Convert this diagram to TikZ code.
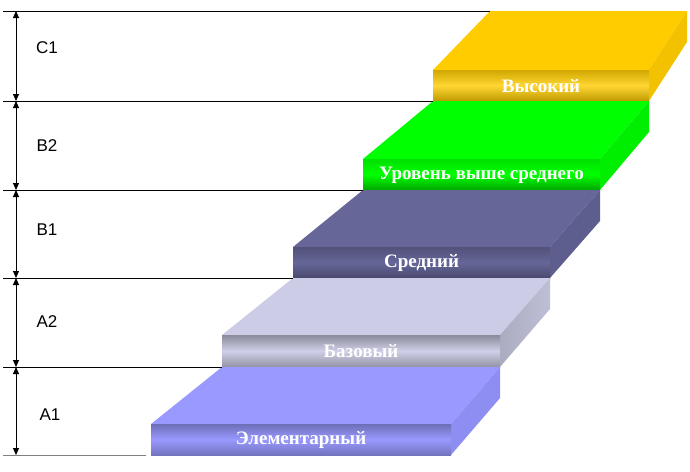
\documentclass[tikz,border=0pt]{standalone}
\usepackage{fontspec}
\setmainfont{Liberation Serif}
\newfontfamily\levelfont{Liberation Sans}
\usetikzlibrary{arrows.meta,calc}

\definecolor{goldtop}{HTML}{FFCC00}
\definecolor{goldside}{HTML}{F2C200}
\definecolor{greentop}{HTML}{00FF00}
\definecolor{greenside}{HTML}{00EE00}
\definecolor{violettop}{HTML}{666699}
\definecolor{violetside}{HTML}{5E5E8E}
\definecolor{greytop}{HTML}{CCCCE6}
\definecolor{greyside}{HTML}{BEBED6}
\definecolor{bluetop}{HTML}{9999FF}
\definecolor{blueside}{HTML}{8E8EF2}

\begin{document}
\begin{tikzpicture}[x=1pt,y=-1pt,
    steplabel/.style={text=white,font=\bfseries\fontsize{19}{19}\selectfont,inner sep=0pt},
    levellabel/.style={font=\levelfont\fontsize{17}{17}\selectfont,inner sep=0pt},
    levelline/.style={line width=1pt},
    dimarrow/.style={line width=1pt,{Triangle[length=7pt,width=6pt]}-{Triangle[length=7pt,width=6pt]}}]
    \useasboundingbox (0,0) rectangle (690,471);

    % corners of the steps: fl/fr = front top left/right, bl/br = back left/right
    \coordinate (c1fl) at (433,70);
    \coordinate (c1fr) at (649,70);
    \coordinate (c1bl) at (490,11);
    \coordinate (c1br) at (687,11);
    \coordinate (b2fl) at (363,159);
    \coordinate (b2fr) at (600,159);
    \coordinate (b2bl) at (433,101);
    \coordinate (b2br) at (649,101);
    \coordinate (b1fl) at (293,247);
    \coordinate (b1fr) at (550,247);
    \coordinate (b1bl) at (363,190);
    \coordinate (b1br) at (600,190);
    \coordinate (a2fl) at (222,335);
    \coordinate (a2fr) at (500,335);
    \coordinate (a2bl) at (293,278);
    \coordinate (a2br) at (550,278);
    \coordinate (a1fl) at (151,424);
    \coordinate (a1fr) at (451,424);
    \coordinate (a1bl) at (222,367);
    \coordinate (a1br) at (500,367);

    % C1
    \fill[goldtop] (c1fl)--(c1bl)--(c1br)--(c1fr)--cycle;
    \fill[goldside] (c1fr)--(c1br)--([shift={(0,31)}]c1br)--([shift={(0,31)}]c1fr)--cycle;
    \shade[top color=goldtop!82!black,bottom color=goldtop!75!black,middle color=goldtop!80!white] (c1fl) rectangle ([shift={(0,31)}]c1fr);
    \node[steplabel] (c1txt) at ([shift={(0,16)}]$(c1fl)!0.5!(c1fr)$) {Высокий};

    % B2
    \fill[greentop] (b2fl)--(b2bl)--(b2br)--(b2fr)--cycle;
    \fill[greenside] (b2fr)--(b2br)--([shift={(0,31)}]b2br)--([shift={(0,31)}]b2fr)--cycle;
    \shade[top color=greentop!88!black,bottom color=greentop!65!black,middle color=greentop] (b2fl) rectangle ([shift={(0,31)}]b2fr);
    \node[steplabel] (b2txt) at ([shift={(0,16)}]$(b2fl)!0.5!(b2fr)$) {Уровень выше среднего};

    % B1
    \fill[violettop] (b1fl)--(b1bl)--(b1br)--(b1fr)--cycle;
    \fill[violetside] (b1fr)--(b1br)--([shift={(0,31)}]b1br)--([shift={(0,31)}]b1fr)--cycle;
    \shade[top color=violettop!80!black,bottom color=violettop!72!black,middle color=violettop] (b1fl) rectangle ([shift={(0,31)}]b1fr);
    \node[steplabel] (b1txt) at ([shift={(0,16)}]$(b1fl)!0.5!(b1fr)$) {Средний};

    % A2
    \fill[greytop] (a2fl)--(a2bl)--(a2br)--(a2fr)--cycle;
    \shade[left color=greyside!90!black,right color=greyside] (a2fr)--(a2br)--([shift={(0,31)}]a2br)--([shift={(0,32)}]a2fr)--cycle;
    \shade[top color=greytop!68!black,bottom color=greytop!72!black,middle color=greytop!95!white] (a2fl) rectangle ([shift={(0,32)}]a2fr);
    \node[steplabel] (a2txt) at ([shift={(0,16)}]$(a2fl)!0.5!(a2fr)$) {Базовый};

    % A1
    \fill[bluetop] (a1fl)--(a1bl)--(a1br)--(a1fr)--cycle;
    \fill[blueside] (a1fr)--(a1br)--([shift={(0,31)}]a1br)--([shift={(0,31)}]a1fr)--cycle;
    \shade[top color=bluetop!72!black,bottom color=bluetop!75!black,middle color=bluetop] (a1fl) rectangle ([shift={(0,31)}]a1fr);
    \node[steplabel] (a1txt) at ([shift={(0,16)}]$(a1fl)!0.5!(a1fr)$) {Элементарный};

    % level lines
    \coordinate (t0) at (3,11);
    \coordinate (t1) at (3,101);
    \coordinate (t2) at (3,190);
    \coordinate (t3) at (3,278);
    \coordinate (t4) at (3,367);
    \coordinate (t5) at (3,455);
    \draw[levelline] (t0) -- (c1bl);
    \draw[levelline] (t1) -- (b2bl);
    \draw[levelline] (t2) -- (b1bl);
    \draw[levelline] (t3) -- (a2bl);
    \draw[levelline] (t4) -- (a1bl);
    \draw[levelline,gray] (t5) -- ([shift={(-5,31)}]a1fl);

    % dimension arrows
    \draw[dimarrow] ([shift={(13,0)}]t0) -- ([shift={(13,0)}]t1);
    \draw[dimarrow] ([shift={(13,0)}]t1) -- ([shift={(13,0)}]t2);
    \draw[dimarrow] ([shift={(13,0)}]t2) -- ([shift={(13,0)}]t3);
    \draw[dimarrow] ([shift={(13,0)}]t3) -- ([shift={(13,0)}]t4);
    \draw[dimarrow] ([shift={(13,0)}]t4) -- ([shift={(13,0)}]t5);
    \node[levellabel] (c1lbl) at (47,48) {C1};
    \node[levellabel] (b2lbl) at (47,146) {B2};
    \node[levellabel] (b1lbl) at (47,230) {B1};
    \node[levellabel] (a2lbl) at (47,322) {A2};
    \node[levellabel] (a1lbl) at (50,415) {A1};
\end{tikzpicture}
\end{document}
